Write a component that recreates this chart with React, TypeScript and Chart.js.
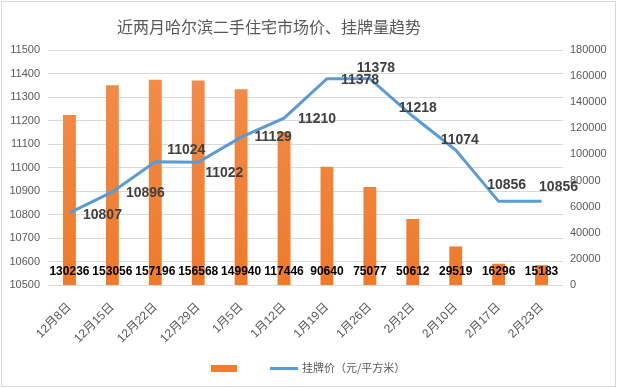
import React, { useEffect, useRef } from "react";
import { Chart, registerables } from "chart.js";

Chart.register(...registerables);

const titleText = "近两月哈尔滨二手住宅市场价、挂牌量趋势";
const categories = ["12月8日", "12月15日", "12月22日", "12月29日", "1月5日", "1月12日", "1月19日", "1月26日", "2月2日", "2月10日", "2月17日", "2月23日"];
const listingCounts = [130236, 153056, 157196, 156568, 149940, 117446, 90640, 75077, 50612, 29519, 16296, 15183];
const listingPrices = [10807, 10896, 11024, 11022, 11129, 11210, 11378, 11378, 11218, 11074, 10856, 10856];
const priceMin = 10500;
const priceMax = 11500;
const priceStep = 100;
const countMin = 0;
const countMax = 180000;
const countStep = 20000;
const lineSeriesName = "挂牌价（元/平方米）";
const barSeriesName = "";

// label offsets (dx, dy) from each line point, in px
const lineLabelOffsets = [
  [33, 2], [33, 1], [31, -12], [26, 11], [32, 0], [33, 1],
  [33, 1], [6, -11], [5, -8], [4, -10], [8, -16], [17, -14],
];

const FONT = "'Liberation Sans', 'Noto Sans CJK SC', sans-serif";
const CJK = "'Noto Sans CJK SC', sans-serif";

const decorPlugin = {
  id: "decor",
  beforeDraw(chart: any) {
    const { ctx, width, height } = chart;
    ctx.save();
    ctx.fillStyle = "#ffffff";
    ctx.fillRect(0, 0, width, height);
    ctx.strokeStyle = "#D9D9D9";
    ctx.lineWidth = 1;
    ctx.strokeRect(1.5, 1.5, width - 4, height - 3);
    ctx.fillStyle = "#595959";
    ctx.font = `16px ${CJK}`;
    ctx.textAlign = "center";
    ctx.textBaseline = "middle";
    ctx.fillText(titleText, 269, 27);
    ctx.restore();
  },
  afterDatasetsDraw(chart: any) {
    const { ctx, chartArea } = chart;
    ctx.save();
    const barMeta = chart.getDatasetMeta(1);
    ctx.font = `bold 12px ${FONT}`;
    ctx.fillStyle = "#000000";
    ctx.textAlign = "center";
    ctx.textBaseline = "middle";
    barMeta.data.forEach((el: any, i: number) => {
      ctx.fillText(String(listingCounts[i]), el.x, chartArea.bottom - 13);
    });
    const lineMeta = chart.getDatasetMeta(0);
    ctx.font = `bold 14px ${FONT}`;
    ctx.fillStyle = "#404040";
    lineMeta.data.forEach((el: any, i: number) => {
      const [dx, dy] = lineLabelOffsets[i];
      ctx.fillText(String(listingPrices[i]), el.x + dx, el.y + dy);
    });
    ctx.restore();
  },
  afterDraw(chart: any) {
    const { ctx } = chart;
    ctx.save();
    ctx.fillStyle = "#ED7D31";
    ctx.fillRect(211, 365, 26, 7);
    ctx.strokeStyle = "#5B9BD5";
    ctx.lineWidth = 3;
    ctx.beginPath();
    ctx.moveTo(270, 368.5);
    ctx.lineTo(298, 368.5);
    ctx.stroke();
    ctx.fillStyle = "#595959";
    ctx.font = `11px ${CJK}`;
    ctx.textAlign = "left";
    ctx.textBaseline = "middle";
    ctx.fillText(lineSeriesName, 302, 368);
    if (barSeriesName) ctx.fillText(barSeriesName, 240, 368);
    ctx.restore();
  },
};

export default function App() {
  const canvasRef = useRef<HTMLCanvasElement | null>(null);

  useEffect(() => {
    const canvas = canvasRef.current;
    if (!canvas) return;
    const chart = new Chart(canvas, {
      type: "bar",
      data: {
        labels: categories,
        datasets: [
          {
            type: "line",
            label: lineSeriesName,
            data: listingPrices,
            yAxisID: "yPrice",
            borderColor: "#5B9BD5",
            backgroundColor: "#5B9BD5",
            borderWidth: 3,
            pointRadius: 0,
            tension: 0,
            order: 0,
          } as any,
          {
            type: "bar",
            label: barSeriesName,
            data: listingCounts,
            yAxisID: "yCount",
            backgroundColor: (c: any) => {
              const area = c.chart.chartArea;
              if (!area) return "#ED7D31";
              const g = c.chart.ctx.createLinearGradient(0, area.top, 0, area.bottom);
              g.addColorStop(0, "#F28E4E");
              g.addColorStop(1, "#EE7A2C");
              return g;
            },
            barPercentage: 0.3,
            categoryPercentage: 1,
            order: 1,
          } as any,
        ],
      },
      options: {
        responsive: false,
        animation: false,
        layout: { padding: { top: 50, left: 0, right: 0, bottom: 0 } },
        plugins: {
          legend: { display: false },
          title: { display: false },
          tooltip: { enabled: false },
        },
        scales: {
          x: {
            grid: { display: false },
            border: { display: false },
            ticks: {
              minRotation: 45,
              maxRotation: 45,
              color: "#595959",
              font: { size: 12, family: FONT },
              padding: 7,
              autoSkip: false,
            },
            afterFit: (s: any) => {
              s.height = 103;
            },
          },
          yPrice: {
            type: "linear",
            position: "left",
            min: priceMin,
            max: priceMax,
            grid: { color: "#D9D9D9", drawTicks: false, lineWidth: 1 },
            border: { display: false },
            ticks: {
              stepSize: priceStep,
              color: "#595959",
              font: { size: 11, family: FONT },
              padding: 8,
              callback: (v: any) => String(v),
            },
            afterFit: (s: any) => {
              s.width = 48;
            },
          },
          yCount: {
            type: "linear",
            position: "right",
            min: countMin,
            max: countMax,
            grid: { display: false, drawTicks: false },
            border: { display: false },
            ticks: {
              stepSize: countStep,
              color: "#595959",
              font: { size: 11, family: FONT },
              padding: 7,
              callback: (v: any) => String(v),
            },
            afterFit: (s: any) => {
              s.width = 55;
            },
          },
        },
      },
      plugins: [decorPlugin],
    });
    return () => chart.destroy();
  }, []);

  return (
    <div style={{ position: "fixed", left: 0, top: 0, width: 618, height: 388 }}>
      <canvas ref={canvasRef} width={618} height={388} style={{ display: "block" }} />
    </div>
  );
}
